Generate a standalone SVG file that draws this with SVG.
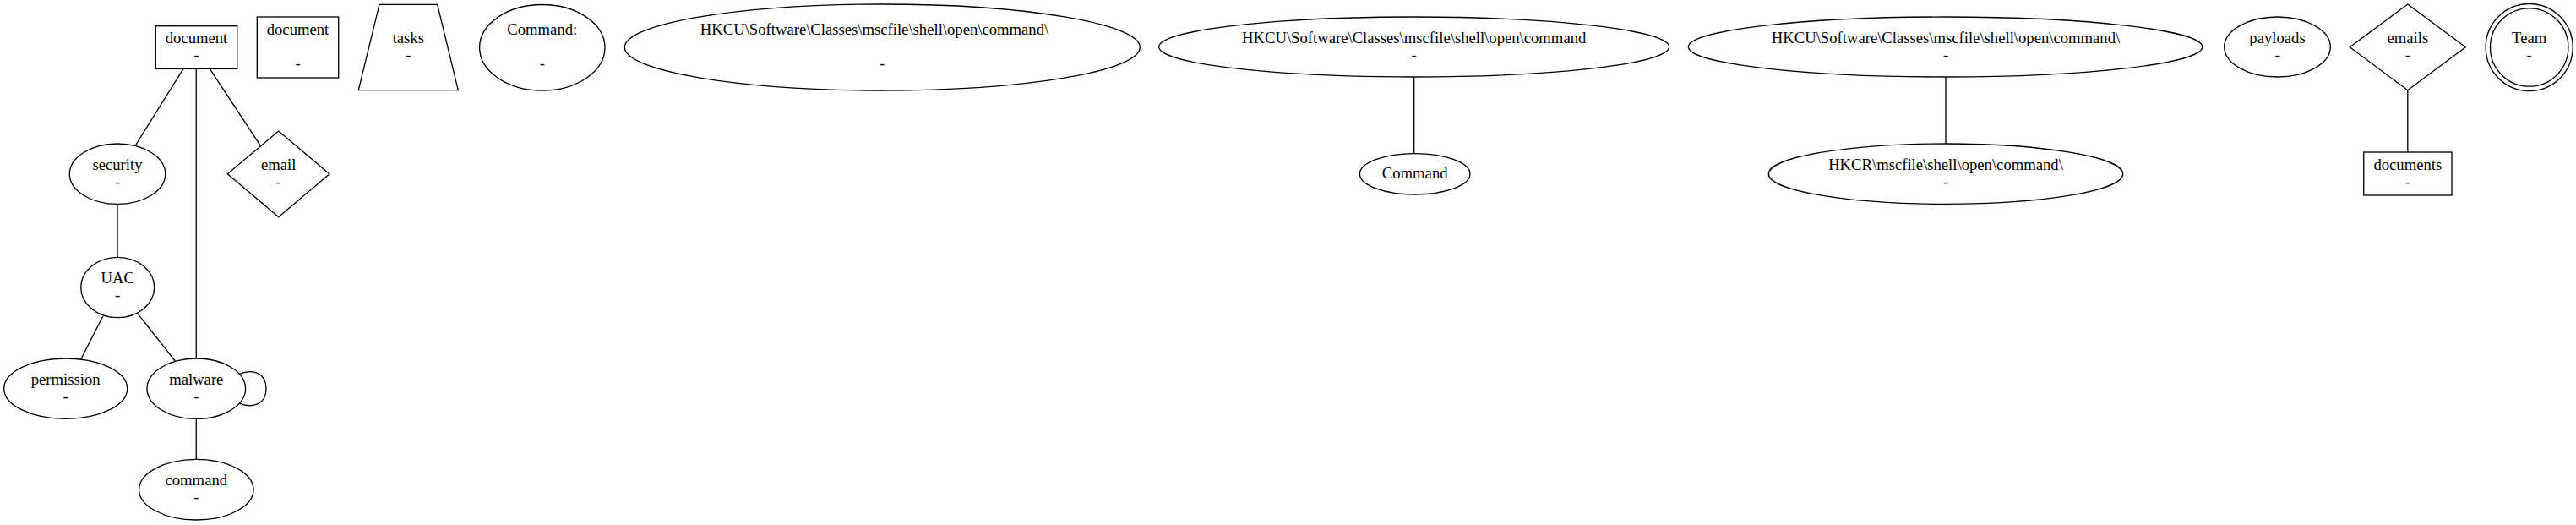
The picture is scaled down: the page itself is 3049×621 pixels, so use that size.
<svg xmlns="http://www.w3.org/2000/svg" width="3049" height="621" viewBox="0 0 3049 621">
<style>
.s{fill:none;stroke:#000;stroke-width:1.33}
.n{fill:#fff;stroke:#000;stroke-width:1.33}
text{font-family:"Liberation Serif","Times New Roman",serif;font-size:18.67px;fill:#000;text-anchor:middle}
</style>
<rect x="0" y="0" width="3049" height="621" fill="#fff"/>
<g id="edges">
<line class="s" x1="217" y1="81.3" x2="160.3" y2="172"/>
<line class="s" x1="232.3" y1="81.3" x2="232.3" y2="424"/>
<line class="s" x1="248.3" y1="81.3" x2="308.3" y2="172.3"/>
<line class="s" x1="139" y1="241.3" x2="139" y2="304.3"/>
<line class="s" x1="121.7" y1="374.3" x2="95.7" y2="425"/>
<line class="s" x1="162.7" y1="370.7" x2="207.3" y2="427"/>
<line class="s" x1="232.3" y1="495.3" x2="232.3" y2="543.3"/>
<path class="s" d="M282.9,442.3 C300,436 315,441 315,459.7 C315,478 300,483.5 282.9,477.1"/>
<line class="s" x1="1673.7" y1="91" x2="1673.7" y2="181.7"/>
<line class="s" x1="2303" y1="91" x2="2303" y2="170"/>
<line class="s" x1="2849.8" y1="106.7" x2="2849.8" y2="180"/>
</g>
<g id="document1">
<rect class="n" x="184.3" y="30.7" width="96.4" height="50.7"/>
<text x="232.5" y="51">document</text><text x="232.5" y="71">-</text>
</g>
<g id="document2">
<rect class="n" x="304.3" y="20" width="96.4" height="72"/>
<text x="352.5" y="41">document</text><text x="352.5" y="81">-</text>
</g>
<g id="tasks">
<polygon class="n" points="449,5.3 517.7,5.3 542.3,106.7 424.3,106.7"/>
<text x="483.3" y="51">tasks</text><text x="483.3" y="71">-</text>
</g>
<g id="command_colon">
<ellipse class="n" cx="641.8" cy="56.3" rx="74.2" ry="50.8"/>
<text x="641.8" y="41">Command:</text><text x="641.8" y="81">-</text>
</g>
<g id="hkcu1">
<ellipse class="n" cx="1044.3" cy="56" rx="305" ry="51"/>
<text x="1035" y="41">HKCU\Software\Classes\mscfile\shell\open\command\</text><text x="1044" y="81">-</text>
</g>
<g id="hkcu2">
<ellipse class="n" cx="1673.7" cy="55.5" rx="302" ry="35.5"/>
<text x="1673.7" y="50.5">HKCU\Software\Classes\mscfile\shell\open\command</text><text x="1673.7" y="70.5">-</text>
</g>
<g id="hkcu3">
<ellipse class="n" cx="2302.5" cy="55.5" rx="304.2" ry="35.5"/>
<text x="2303" y="50.5">HKCU\Software\Classes\mscfile\shell\open\command\</text><text x="2303" y="70.5">-</text>
</g>
<g id="payloads">
<ellipse class="n" cx="2695.5" cy="55.5" rx="62.8" ry="35.5"/>
<text x="2695.5" y="50.5">payloads</text><text x="2695.5" y="70.5">-</text>
</g>
<g id="emails">
<polygon class="n" points="2849.8,5 2918.3,55.8 2849.8,106.7 2781.3,55.8"/>
<text x="2849.8" y="51">emails</text><text x="2849.8" y="71">-</text>
</g>
<g id="team">
<circle class="n" cx="2993.7" cy="56" r="51.5"/>
<circle class="n" cx="2993.7" cy="56" r="46.2"/>
<text x="2993.7" y="51">Team</text><text x="2993.7" y="71">-</text>
</g>
<g id="security">
<ellipse class="n" cx="139" cy="205.7" rx="56.7" ry="35.7"/>
<text x="139" y="200.6">security</text><text x="139" y="220.6">-</text>
</g>
<g id="email">
<polygon class="n" points="329.7,155 390,205.8 329.7,256.7 269.3,205.8"/>
<text x="329.7" y="200.7">email</text><text x="329.7" y="220.7">-</text>
</g>
<g id="command_node">
<ellipse class="n" cx="1674.7" cy="205.8" rx="65.3" ry="24.2"/>
<text x="1674.7" y="210.8">Command</text>
</g>
<g id="hkcr">
<ellipse class="n" cx="2303" cy="205.7" rx="209.7" ry="35.7"/>
<text x="2303" y="200.6">HKCR\mscfile\shell\open\command\</text><text x="2303" y="220.6">-</text>
</g>
<g id="documents">
<rect class="n" x="2797.7" y="180" width="104.3" height="51"/>
<text x="2849.8" y="200.5">documents</text><text x="2849.8" y="220.5">-</text>
</g>
<g id="uac">
<ellipse class="n" cx="139.2" cy="340" rx="43.5" ry="35.7"/>
<text x="139.2" y="335">UAC</text><text x="139.2" y="355">-</text>
</g>
<g id="permission">
<ellipse class="n" cx="77.7" cy="459.7" rx="73" ry="35.7"/>
<text x="77.7" y="454.6">permission</text><text x="77.7" y="474.6">-</text>
</g>
<g id="malware">
<ellipse class="n" cx="232.3" cy="459.7" rx="58.3" ry="35.7"/>
<text x="232.3" y="454.6">malware</text><text x="232.3" y="474.6">-</text>
</g>
<g id="command">
<ellipse class="n" cx="232.3" cy="579.2" rx="67.7" ry="35.8"/>
<text x="232.3" y="574.1">command</text><text x="232.3" y="594.1">-</text>
</g>
</svg>
